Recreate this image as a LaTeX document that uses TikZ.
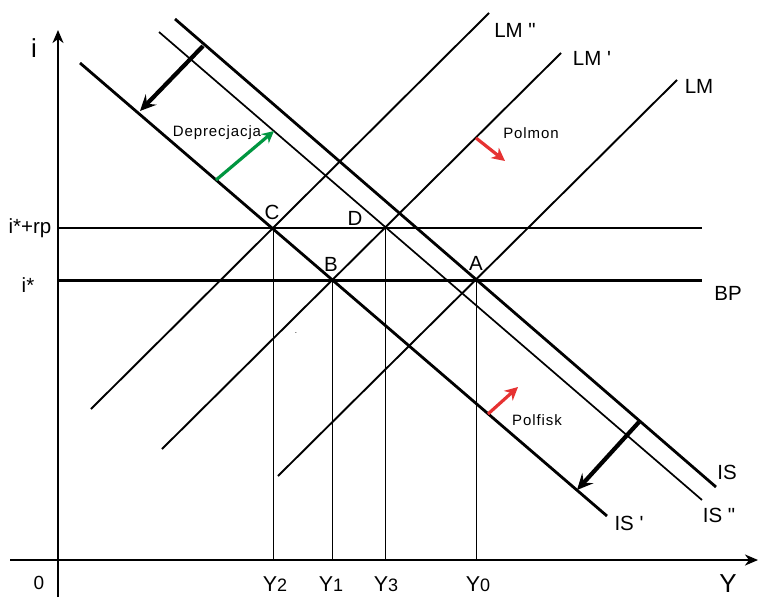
\documentclass[tikz,border=0pt]{standalone}
\usepackage{fontspec}
\setmainfont{Liberation Sans}
\newfontfamily\lbf{Liberation Sans}
\usetikzlibrary{arrows.meta}
\newcommand{\sbs}[1]{{\fontsize{18}{18}\selectfont #1}}
\begin{document}
\begin{tikzpicture}[x=1pt,y=-1pt,
  lbl/.style={font=\lbf\fontsize{20.5}{23}\selectfont, inner sep=0pt},
  biglbl/.style={font=\lbf\fontsize{26}{28}\selectfont, inner sep=0pt},
  smalllbl/.style={font=\lbf\fontsize{15}{16}\selectfont\addfontfeature{LetterSpace=6}, inner sep=0pt},
  axisline/.style={line width=2.8pt, -{Stealth[length=13pt,width=11pt,inset=4pt]}},
  thickcurve/.style={line width=2.8pt},
  thincurve/.style={line width=1.7pt},
  lmcurve/.style={line width=1.9pt},
  dropline/.style={line width=0.8pt},
  shiftarrow/.style={line width=4.2pt, -{Stealth[length=16pt,width=15pt,inset=6pt]}},
  greenarrow/.style={line width=3.2pt, draw={rgb,255:red,0;green,150;blue,64}, -{Stealth[length=12pt,width=12pt,inset=4pt]}},
  redarrow/.style={line width=3.2pt, draw={rgb,255:red,230;green,50;blue,50}, -{Stealth[length=13pt,width=13pt,inset=4pt]}},
]
\useasboundingbox (0,0) rectangle (759,597);
% axes
\coordinate (ybot) at (58,597);
\coordinate (ytop) at (58,30);
\coordinate (xleft) at (10,560);
\coordinate (xright) at (758,560);
\draw[axisline] (ybot) -- (ytop);
\draw[axisline] (xleft) -- (xright);
\node[biglbl] (ilab) at (34,48) {i};
\node[lbl, font=\lbf\fontsize{19}{20}\selectfont] (zero) at (39,583) {0};
\node[biglbl] (Ylab) at (728,584) {Y};
% intersection points
\coordinate (C) at (273,228);
\coordinate (D) at (385,228);
\coordinate (B) at (332,280);
\coordinate (A) at (476,280);
% horizontal lines
\coordinate (rpL) at (58,228);
\coordinate (rpR) at (702,228);
\coordinate (bpL) at (58,280);
\coordinate (bpR) at (702,280);
\draw[line width=1.5pt] (rpL) -- (rpR);
\draw[line width=3pt] (bpL) -- (bpR);
\node[lbl] (irp) at (30,228) {i*+rp};
\node[lbl] (istar) at (28,285) {i*};
\node[lbl] (BP) at (728,293) {BP};
% drop lines
\coordinate (Y2b) at (273,560);
\coordinate (Y1b) at (332,560);
\coordinate (Y3b) at (385,560);
\coordinate (Y0b) at (476,560);
\draw[dropline] (C) -- (Y2b);
\draw[dropline] (B) -- (Y1b);
\draw[dropline] (D) -- (Y3b);
\draw[dropline] (A) -- (Y0b);
\node[lbl, font=\lbf\fontsize{21.5}{22}\selectfont] (Y2) at (275,584) {Y\sbs{2}};
\node[lbl, font=\lbf\fontsize{21.5}{22}\selectfont] (Y1) at (331,584) {Y\sbs{1}};
\node[lbl, font=\lbf\fontsize{21.5}{22}\selectfont] (Y3) at (386,584) {Y\sbs{3}};
\node[lbl, font=\lbf\fontsize{21.5}{22}\selectfont] (Y0) at (478,584) {Y\sbs{0}};
% point labels
\node[lbl] (Clab) at (272,212) {C};
\node[lbl] (Dlab) at (355,218) {D};
\node[lbl] (Blab) at (331,264) {B};
\node[lbl] (Alab) at (476,263) {A};
% IS curves
\coordinate (ISa) at (175,19);
\coordinate (ISb) at (716,487);
\coordinate (ISpa) at (80,63);
\coordinate (ISpb) at (607,516);
\coordinate (ISdda) at (159,32);
\coordinate (ISddb) at (702,500);
\draw[thickcurve] (ISa) -- (ISb);
\draw[thickcurve] (ISpa) -- (ISpb);
\draw[thincurve] (ISdda) -- (ISddb);
\node[lbl] (ISlab) at (727,472) {IS};
\node[lbl] (ISddlab) at (719,515) {IS "};
\node[lbl] (ISplab) at (629,523) {IS '};
% LM curves
\coordinate (LMdda) at (91,409);
\coordinate (LMddb) at (489,13);
\coordinate (LMpa) at (162,449);
\coordinate (LMpb) at (561,53);
\coordinate (LMa) at (278,476);
\coordinate (LMb) at (677,80);
\draw[lmcurve] (LMdda) -- (LMddb);
\draw[lmcurve] (LMpa) -- (LMpb);
\draw[lmcurve] (LMa) -- (LMb);
\node[lbl] (LMddlab) at (515,30) {LM "};
\node[lbl] (LMplab) at (592,58) {LM '};
\node[lbl] (LMlab) at (699,86) {LM};
% shift arrows
\coordinate (s1a) at (203,46);
\coordinate (s1b) at (140,111);
\coordinate (s2a) at (639,422);
\coordinate (s2b) at (577,490);
\draw[shiftarrow] (s1a) -- (s1b);
\draw[shiftarrow] (s2a) -- (s2b);
% policy arrows
\coordinate (ga) at (216,180);
\coordinate (gb) at (274,131);
\draw[greenarrow] (ga) -- (gb);
\node[smalllbl] (dep) at (217,133) {Deprecjacja};
\coordinate (pma) at (476,138);
\coordinate (pmb) at (505,161);
\draw[redarrow] (pma) -- (pmb);
\node[smalllbl] (polmon) at (531,133) {Polmon};
\coordinate (pfa) at (488,414);
\coordinate (pfb) at (518,387);
\draw[redarrow] (pfa) -- (pfb);
\node[smalllbl] (polfisk) at (537,420) {Polfisk};
\node[inner sep=0pt, font=\lbf\fontsize{8}{8}\selectfont] (dot) at (296,333) {.};
\end{tikzpicture}
\end{document}
